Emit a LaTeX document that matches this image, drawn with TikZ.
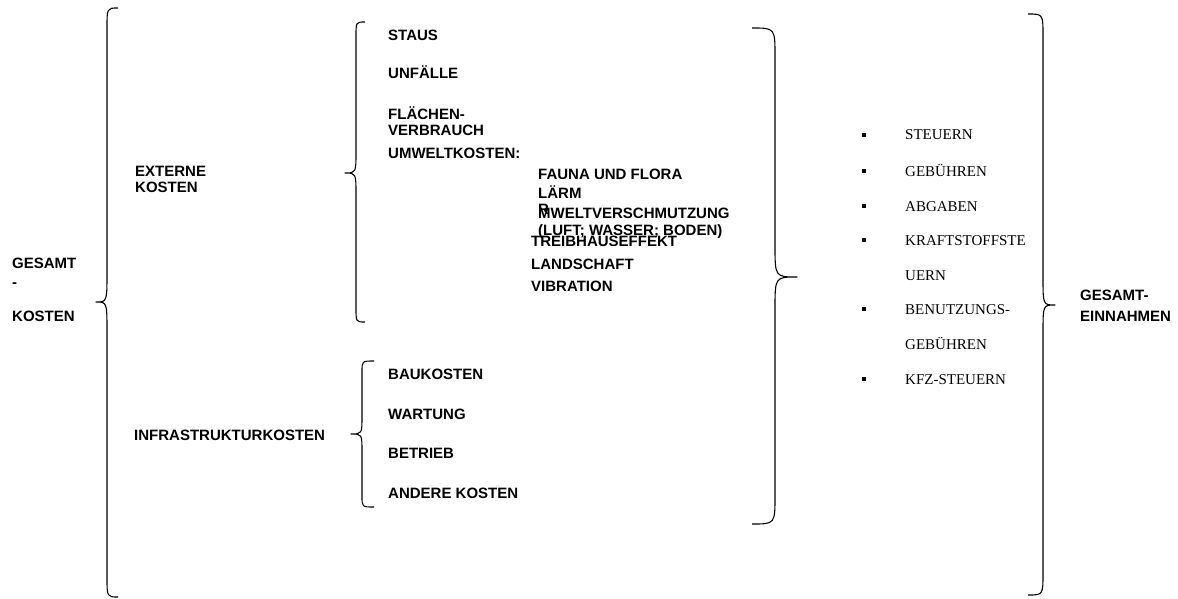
\documentclass[tikz,border=0pt]{standalone}
\usepackage{fontspec}
\setmainfont{Liberation Serif}
\setsansfont{Liberation Sans}
\tikzset{
  lbl/.style={anchor=base west, inner sep=0pt, font=\sffamily\bfseries\fontsize{15}{17}\selectfont, align=left},
  item/.style={anchor=base west, inner sep=0pt, font=\rmfamily\fontsize{15}{17}\selectfont},
  bul/.style={fill=black, inner sep=0pt, minimum size=4pt},
  brace/.style={line width=1.1pt, line join=round},
}
% brace: #1 end x, #2 vertical x, #3 tip x, #4 top y, #5 tip y, #6 bottom y, #7 r1, #8 r2
\newcommand{\braceshape}[8]{%
  \draw[brace] (#1,#4) .. controls (#2,#4) .. (#2,#4+#7) -- (#2,#5-#8)
    .. controls (#2,#5) .. (#3,#5) .. controls (#2,#5) .. (#2,#5+#8)
    -- (#2,#6-#7) .. controls (#2,#6) .. (#1,#6);%
}
\begin{document}
\begin{tikzpicture}[x=1pt,y=-1pt]
\useasboundingbox (0,0) rectangle (1178,599);
% braces
\braceshape{118}{107}{96}{8}{302}{597}{20}{30}
\braceshape{365}{356}{345}{22}{173}{322}{14}{22}
\braceshape{374}{362}{351}{361}{434}{507}{11}{18}
\braceshape{752}{775}{797}{28}{277}{524}{28}{32}
\braceshape{1028}{1043}{1055}{14}{305}{595}{22}{28}

% left labels
\node[lbl] (gesamt) at (12,268) {GESAMT};
\node[lbl] (dash) at (12,287) {-};
\node[lbl] (kosten) at (12,321) {KOSTEN};

\node[lbl] (extern) at (135,193) {EXTERNE\\KOSTEN};
\node[lbl] (infra) at (134,440) {INFRASTRUKTURKOSTEN};

% external cost items
\node[lbl] (staus) at (388,41) {STAUS};
\node[lbl] (unfaelle) at (388,79) {UNFÄLLE};
\node[lbl] (flaeche) at (388,136) {FLÄCHEN-\\VERBRAUCH};
\node[lbl] (umwelt) at (388,159) {UMWELTKOSTEN:};
\node[lbl] (fauna) at (538,179) {FAUNA UND FLORA};
\node[lbl] (laerm) at (538,198) {LÄRM};
\node[lbl] (rr) at (538,214) {R};
\node[lbl] (verschm) at (538,218) {MWELTVERSCHMUTZUNG};
\node[lbl] (luft) at (538,235) {(LUFT; WASSER; BODEN)};
\node[lbl] (treib) at (531,246) {TREIBHAUSEFFEKT};
\node[lbl] (landsch) at (531,269) {LANDSCHAFT};
\node[lbl] (vibr) at (531,291) {VIBRATION};

% infrastructure items
\node[lbl] (bau) at (388,379) {BAUKOSTEN};
\node[lbl] (wart) at (388,419) {WARTUNG};
\node[lbl] (betr) at (388,458) {BETRIEB};
\node[lbl] (andere) at (388,498) {ANDERE KOSTEN};

% revenue items
\node[bul] (b1) at (864,135) {};
\node[bul] (b2) at (864,171) {};
\node[bul] (b3) at (864,206) {};
\node[bul] (b4) at (864,240) {};
\node[bul] (b5) at (864,309) {};
\node[bul] (b6) at (864,379) {};
\node[item] (steuern) at (905,140) {STEUERN};
\node[item] (gebuehr) at (905,176) {GEBÜHREN};
\node[item] (abgaben) at (905,211) {ABGABEN};
\node[item] (kraft) at (905,245) {KRAFTSTOFFSTE};
\node[item] (uern) at (905,280) {UERN};
\node[item] (benutz) at (905,314) {BENUTZUNGS-};
\node[item] (gebuehr2) at (905,349) {GEBÜHREN};
\node[item] (kfz) at (905,384) {KFZ-STEUERN};

\node[lbl, font=\sffamily\bfseries\fontsize{15}{21}\selectfont] (einn) at (1080,321) {GESAMT-\\EINNAHMEN};
\end{tikzpicture}
\end{document}
